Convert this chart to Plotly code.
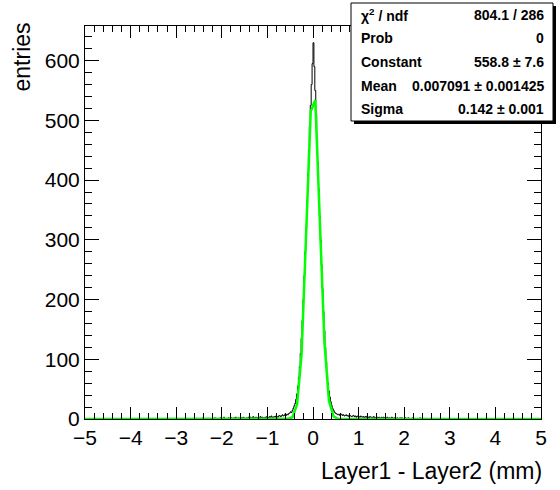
import numpy as np
import plotly.graph_objects as go

# ---------------- data ----------------
hist_lo, hist_hi, bin_w = -5.0, 5.0, 0.02
data_start = -2.6  # first bin edge of the listed counts

left_tail = [
    0, 0, 1, 0, 0, 0, 1, 0, 0, 2, 0, 0, 1, 0, 0, 1, 0, 1, 0, 0,
    1, 0, 2, 0, 1, 0, 0, 1, 2, 0, 1, 0, 3, 1, 0, 1, 0, 2, 1, 0,
    2, 1, 0, 2, 1, 3, 0, 1, 2, 1, 0, 2, 1, 3, 2, 0, 1, 2, 1, 3,
    2, 3, 1, 2, 4, 2, 1, 3, 2, 2, 3, 1, 4, 2, 3, 2, 1, 3, 2, 4,
    3, 2, 4, 3, 5, 2, 3, 4, 3, 5, 4, 3, 5, 6, 4, 5, 7, 5, 6, 8,
]
core = [
    6, 8, 7, 9, 10, 12, 11, 14, 18, 22, 26, 33, 42, 55, 70, 88, 110, 135, 165, 200,
    240, 280, 320, 365, 410, 450, 490, 525, 560, 595,
    630, 590, 550, 510, 470, 430, 385, 340, 300, 258, 218, 180, 148, 120, 96, 76, 60, 47,
    37, 29, 23, 18, 15, 12, 10, 9, 8, 7, 8, 6,
]
right_tail = [
    7, 8, 6, 7, 5, 6, 7, 5, 6, 4, 6, 5, 4, 5, 6, 4, 5, 3, 5, 4,
    4, 3, 5, 4, 3, 4, 2, 4, 3, 5, 3, 2, 4, 3, 3, 2, 4, 3, 2, 3,
    3, 2, 3, 2, 1, 3, 2, 3, 2, 1, 2, 3, 1, 2, 2, 1, 3, 2, 1, 2,
    2, 1, 2, 1, 0, 2, 1, 2, 1, 0, 1, 2, 1, 0, 2, 1, 1, 0, 1, 2,
    1, 0, 1, 0, 1, 0, 0, 2, 0, 1, 0, 0, 1, 0, 1, 0, 0, 0, 1, 0,
    0, 0, 1, 0, 0, 0, 0, 1, 0, 0, 0, 0, 0, 1, 0, 0, 0, 0, 0, 0,
]

fit_x = [-5.0, -0.55, -0.45, -0.35, -0.25, -0.15, -0.05, 0.05, 0.15, 0.25, 0.35, 0.45, 0.55, 5.0]
fit_y = [0, 0.3, 3.1, 23.7, 108.7, 303, 515, 534, 337, 129, 30.2, 4.3, 0.4, 0]

x_ticks = [-5, -4, -3, -2, -1, 0, 1, 2, 3, 4, 5]
x_ticktext = ["\u22125", "\u22124", "\u22123", "\u22122", "\u22121", "0", "1", "2", "3", "4", "5"]
y_ticks = [0, 100, 200, 300, 400, 500, 600]

stat_labels = ["\u03c7<sup>2</sup> / ndf", "Prob", "Constant", "Mean", "Sigma"]
stat_values = ["804.1 / 286", "0", "558.8 \u00b1 7.6", "0.007091 \u00b1 0.001425", "0.142 \u00b1 0.001"]

x_title = "Layer1 - Layer2 (mm)"
y_title = "entries"

# ---------------- build histogram ----------------
nb = int(round((hist_hi - hist_lo) / bin_w))
edges = hist_lo + bin_w * np.arange(nb + 1)
counts = np.zeros(nb)
listed = np.array(left_tail + core + right_tail, dtype=float)
i0 = int(round((data_start - hist_lo) / bin_w))
counts[i0:i0 + len(listed)] = listed
hx = np.append(edges[:-1], edges[-1])
hy = np.append(counts, counts[-1])

FONT = "Liberation Sans, Arial, Helvetica, sans-serif"

fig = go.Figure()
fig.add_trace(go.Scatter(x=hx, y=hy, mode="lines", line=dict(color="black", width=1, shape="hv"),
                         showlegend=False, hoverinfo="skip"))
fig.add_trace(go.Scatter(x=fit_x, y=fit_y, mode="lines", line=dict(color="#00ff00", width=2.5),
                         showlegend=False, hoverinfo="skip"))

# plot area in pixels
L, R, T, B = 85, 541, 26, 419
W, H = 560, 490
pw, ph = R - L, B - T

def px(x):
    return (x - L) / pw

def py(y):
    return (B - y) / ph

axis_common = dict(showgrid=False, zeroline=False, showline=True, linecolor="black", linewidth=1,
                   mirror="ticks", ticks="inside", tickcolor="black", tickwidth=1,
                   tickfont=dict(family=FONT, size=21, color="black"))

fig.update_layout(
    width=W, height=H, margin=dict(l=L, r=W - R, t=T, b=H - B),
    paper_bgcolor="white", plot_bgcolor="white",
    xaxis=dict(range=[hist_lo, hist_hi], tickvals=x_ticks, ticktext=x_ticktext, ticklen=12,
               minor=dict(dtick=0.2, ticklen=6, ticks="inside", tickcolor="black", showgrid=False),
               **axis_common),
    yaxis=dict(range=[0, 658], tickvals=y_ticks, ticklen=14,
               minor=dict(dtick=20, ticklen=7, ticks="inside", tickcolor="black", showgrid=False),
               **axis_common),
)

# axis titles
fig.add_annotation(text=x_title, xref="paper", yref="paper", x=px(544), y=py(471), xanchor="right",
                   yanchor="middle", showarrow=False, font=dict(family=FONT, size=23, color="black"))
fig.add_annotation(text=y_title, xref="paper", yref="paper", x=px(22), y=py(20), xanchor="center",
                   yanchor="top", textangle=-90, showarrow=False,
                   font=dict(family=FONT, size=23, color="black"))

# stats box with shadow
bx0, bx1, by0, by1 = 351, 553, 3, 121
sh = 3
fig.add_shape(type="rect", xref="paper", yref="paper", x0=px(bx0 + sh), x1=px(bx1 + sh),
              y0=py(by1 + sh), y1=py(by0 + sh), fillcolor="black", line=dict(width=0), layer="above")
fig.add_shape(type="rect", xref="paper", yref="paper", x0=px(bx0), x1=px(bx1),
              y0=py(by1), y1=py(by0), fillcolor="white", line=dict(color="black", width=1), layer="above")

row_h = (by1 - by0) / len(stat_labels)
for i, (lab, val) in enumerate(zip(stat_labels, stat_values)):
    yc = by0 + row_h * (i + 0.5)
    fig.add_annotation(text="<b>" + lab + "</b>", xref="paper", yref="paper", x=px(bx0 + 8), y=py(yc),
                       xanchor="left", yanchor="middle", showarrow=False,
                       font=dict(family=FONT, size=14, color="black"))
    fig.add_annotation(text="<b>" + val + "</b>", xref="paper", yref="paper", x=px(bx1 - 7), y=py(yc),
                       xanchor="right", yanchor="middle", showarrow=False,
                       font=dict(family=FONT, size=14, color="black"))

fig.write_html("out.html", config={"displayModeBar": False},
               post_script="document.body.style.margin='0';")
